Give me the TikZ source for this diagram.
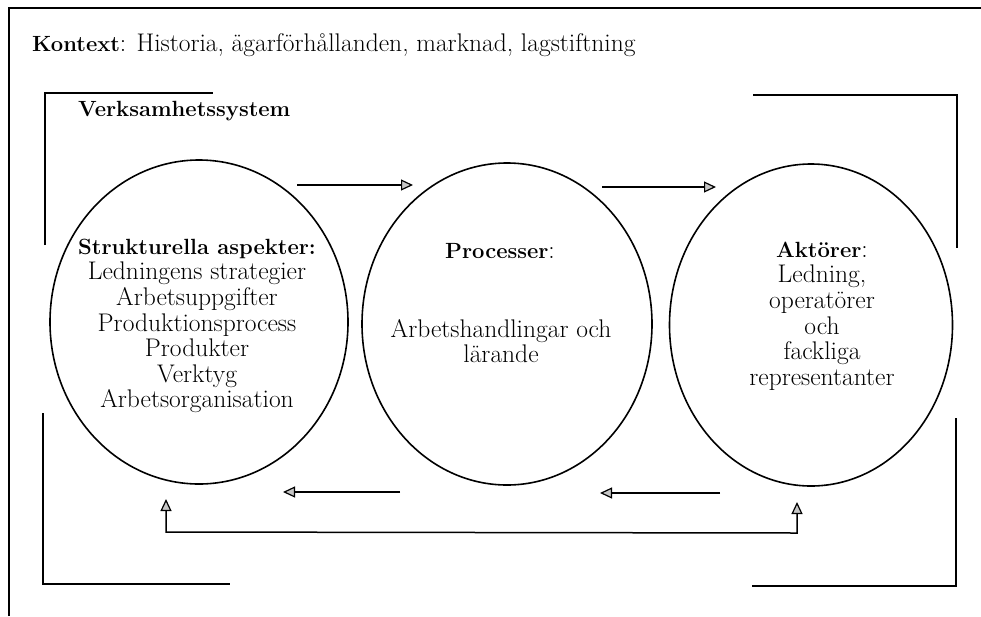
\documentclass[tikz,border=0pt]{standalone}
\usetikzlibrary{arrows.meta,shapes.geometric}
\newcommand\rgsz{\fontsize{25.5}{25.6}\selectfont}
\newcommand\bfsz{\fontsize{22}{25.6}\selectfont\bfseries}
\newcommand\hd[1]{{\bfsz #1}}
\begin{document}
\begin{tikzpicture}[x=1pt,y=-1pt,
  circ/.style={draw,line width=1.6pt,ellipse,inner sep=0pt},
  frameline/.style={line width=1.8pt},
  flow/.style={line width=1.5pt,-{Triangle[length=12pt,width=11pt,fill=gray!45,line width=1.2pt]}},
  txt/.style={inner sep=0pt,align=center,font=\rgsz},
  ttl/.style={inner sep=0pt,font=\rgsz}]
\useasboundingbox (0,0) rectangle (981,616);
% outer frame (cut at right and bottom)
\draw[line width=1.5pt] (9,616) -- (9,8) -- (981,8);
% brackets
\draw[frameline] (45,245) -- (45,93) -- (213,93);
\draw[frameline] (43,413) -- (43,584) -- (230,584);
\draw[frameline] (753,95) -- (957,95) -- (957,248);
\draw[frameline] (956,418) -- (956,586) -- (752,586);
% titles
\node[ttl,anchor=base west] (ctx) at (32,51) {\hd{Kontext}: Historia, ägarförhållanden, marknad, lagstiftning};
\node[ttl,anchor=base west] (vs) at (78,116) {\hd{Verksamhetssystem}};
% circles
\node[circ,minimum width=298pt,minimum height=324pt] (s) at (199,322) {};
\node[circ,minimum width=290pt,minimum height=322pt] (p) at (507,324) {};
\node[circ,minimum width=283pt,minimum height=322pt] (a) at (811,325) {};
% texts
\node[txt] (st) at (197,326) {\hd{Strukturella aspekter:}\\Ledningens strategier\\Arbetsuppgifter\\Produktionsprocess\\Produkter\\Verktyg\\Arbetsorganisation};
\node[txt] (pt1) at (500,251) {\hd{Processer}:};
\node[txt] (pt2) at (501,341) {Arbetshandlingar och\\lärande};
\node[txt] (at) at (822,316) {\hd{Aktörer}:\\Ledning,\\operatörer\\och\\fackliga\\representanter};
% arrow end points
\coordinate (t1s) at (297,185); \coordinate (t1e) at (413,185);
\coordinate (t2s) at (602,187); \coordinate (t2e) at (716,187);
\coordinate (b1s) at (400,492); \coordinate (b1e) at (283,492);
\coordinate (b2s) at (720,493); \coordinate (b2e) at (600,493);
\coordinate (ls) at (166,499); \coordinate (lc1) at (166,532);
\coordinate (lc2) at (797,533); \coordinate (le) at (797,502);
\draw[flow] (t1s) -- (t1e);
\draw[flow] (t2s) -- (t2e);
\draw[flow] (b1s) -- (b1e);
\draw[flow] (b2s) -- (b2e);
\draw[line width=1.5pt,{Triangle[length=12pt,width=11pt,fill=gray!45,line width=1.2pt]}-{Triangle[length=12pt,width=11pt,fill=gray!45,line width=1.2pt]}] (ls) -- (lc1) -- (lc2) -- (le);
\end{tikzpicture}
\end{document}
